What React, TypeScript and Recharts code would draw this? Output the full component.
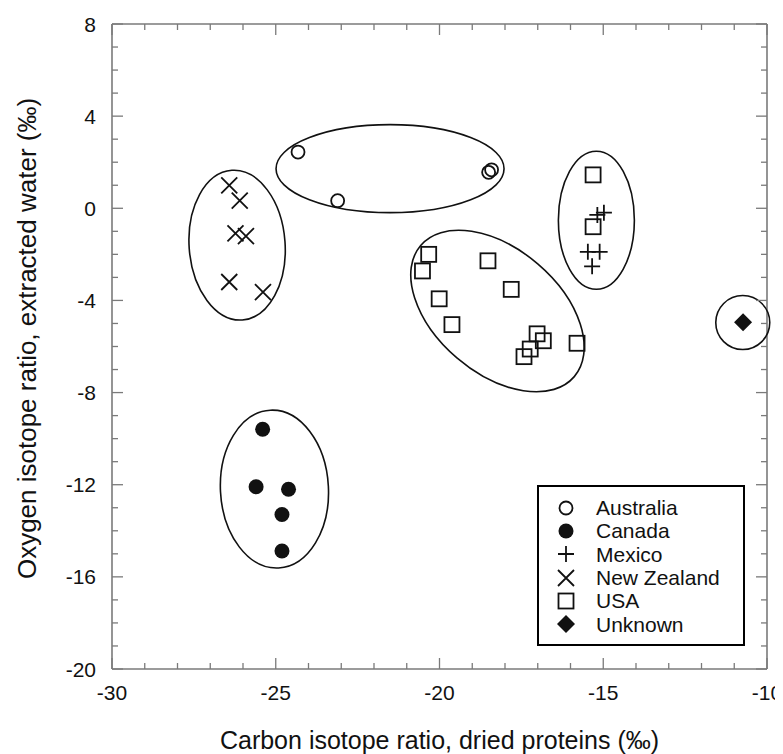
import { ScatterChart, Scatter, XAxis, YAxis, Legend } from 'recharts';

const FONT = '"Liberation Sans", Arial, Helvetica, sans-serif';
const AXIS = '#7a7a7a';
const INK = '#111';

// tick positions (every 1 unit on x, every 1 unit on y)
const X_TICKS = [-30, -29, -28, -27, -26, -25, -24, -23, -22, -21, -20, -19, -18, -17, -16, -15, -14, -13, -12, -11, -10];
const Y_TICKS = [8, 7, 6, 5, 4, 3, 2, 1, 0, -1, -2, -3, -4, -5, -6, -7, -8, -9, -10, -11, -12, -13, -14, -15, -16, -17, -18, -19, -20];
const X_LABELS = [-30, -25, -20, -15, -10];
const Y_LABELS = [8, 4, 0, -4, -8, -12, -16, -20];

// [carbon, oxygen]
const AUSTRALIA = [[-24.32, 2.44], [-23.11, 0.33], [-18.5, 1.56], [-18.41, 1.67]];
const CANADA = [[-25.4, -9.59], [-25.6, -12.09], [-24.61, -12.2], [-24.81, -13.29], [-24.81, -14.88]];
const MEXICO = [[-15.18, -0.29], [-14.98, -0.19], [-15.47, -1.89], [-15.11, -1.89], [-15.34, -2.52]];
const NEW_ZEALAND = [[-26.42, 0.99], [-26.1, 0.33], [-26.23, -1.09], [-25.91, -1.21], [-26.42, -3.2], [-25.39, -3.64]];
const USA = [
  [-15.31, 1.45], [-15.31, -0.8], [-20.33, -2.0], [-20.52, -2.72], [-18.52, -2.28], [-17.81, -3.52],
  [-20.01, -3.93], [-19.62, -5.05], [-17.02, -5.45], [-16.83, -5.75], [-17.23, -6.11], [-17.42, -6.44], [-15.8, -5.86],
];
const UNKNOWN = [[-10.73, -4.95]];

// centres of the group outlines
const RING_CENTERS = [
  { group: 'Australia', x: -21.51, y: 1.72 },
  { group: 'New Zealand', x: -26.18, y: -1.6 },
  { group: 'Mexico', x: -15.21, y: -0.52 },
  { group: 'USA', x: -18.23, y: -4.46 },
  { group: 'Unknown', x: -10.74, y: -4.96 },
  { group: 'Canada', x: -25.04, y: -12.19 },
];

// outline geometry in px
const RING_SIZE: Record<string, { rx: number; ry: number; rot: number }> = {
  Australia: { rx: 114, ry: 44, rot: 0 },
  'New Zealand': { rx: 48, ry: 75, rot: -4 },
  Mexico: { rx: 38, ry: 69, rot: 0 },
  USA: { rx: 101, ry: 62, rot: 40.5 },
  Unknown: { rx: 27, ry: 27, rot: 0 },
  Canada: { rx: 54, ry: 79, rot: -3 },
};

const SERIES = [
  { name: 'Australia', points: AUSTRALIA, marker: 'ring' },
  { name: 'Canada', points: CANADA, marker: 'dot' },
  { name: 'Mexico', points: MEXICO, marker: 'plus' },
  { name: 'New Zealand', points: NEW_ZEALAND, marker: 'cross' },
  { name: 'USA', points: USA, marker: 'square' },
  { name: 'Unknown', points: UNKNOWN, marker: 'diamond' },
];

function Marker({ kind, cx, cy }: { kind: string; cx: number; cy: number }) {
  const sw = 1.8;
  switch (kind) {
    case 'ring':
      return <circle cx={cx} cy={cy} r={6.5} fill="none" stroke={INK} strokeWidth={sw} />;
    case 'dot':
      return <circle cx={cx} cy={cy} r={7.5} fill={INK} />;
    case 'plus':
      return <path d={`M${cx - 8},${cy}H${cx + 8}M${cx},${cy - 8}V${cy + 8}`} stroke={INK} strokeWidth={sw} fill="none" />;
    case 'cross':
      return (
        <path
          d={`M${cx - 8},${cy - 8}L${cx + 8},${cy + 8}M${cx + 8},${cy - 8}L${cx - 8},${cy + 8}`}
          stroke={INK}
          strokeWidth={sw}
          fill="none"
        />
      );
    case 'square':
      return <rect x={cx - 7.5} y={cy - 7.5} width={15} height={15} fill="none" stroke={INK} strokeWidth={sw} />;
    case 'diamond':
      return <path d={`M${cx},${cy - 9}L${cx + 9},${cy}L${cx},${cy + 9}L${cx - 9},${cy}Z`} fill={INK} />;
    default:
      return null;
  }
}

function xTick(side: 'bottom' | 'top') {
  return (props: any) => {
    const { x, y, payload } = props;
    const v = payload.value;
    const major = X_LABELS.includes(v);
    const len = major ? 11 : 6;
    const dir = side === 'bottom' ? -1 : 1;
    return (
      <g>
        <line x1={x} y1={y} x2={x} y2={y + dir * len} stroke={AXIS} strokeWidth={1.3} />
        {side === 'bottom' && major && (
          <text x={x} y={y + 31} textAnchor="middle" fontSize={21} fontFamily={FONT} fill={INK}>
            {v}
          </text>
        )}
      </g>
    );
  };
}

function yTick(side: 'left' | 'right') {
  return (props: any) => {
    const { x, y, payload } = props;
    const v = payload.value;
    const major = Y_LABELS.includes(v);
    const len = major ? 11 : 6;
    const dir = side === 'left' ? 1 : -1;
    return (
      <g>
        <line x1={x} y1={y} x2={x + dir * len} y2={y} stroke={AXIS} strokeWidth={1.3} />
        {side === 'left' && major && (
          <text x={x - 16} y={y + 7.5} textAnchor="end" fontSize={21} fontFamily={FONT} fill={INK}>
            {v}
          </text>
        )}
      </g>
    );
  };
}

function LegendBox() {
  return (
    <div
      style={{
        boxSizing: 'border-box',
        width: 208,
        height: 161,
        border: '2px solid #000',
        background: '#fff',
        padding: '9px 0 0 17px',
        fontFamily: FONT,
        fontSize: 21,
        color: INK,
      }}
    >
      {SERIES.map((s) => (
        <div key={s.name} style={{ display: 'flex', alignItems: 'center', height: 23.3 }}>
          <svg width={20} height={20} style={{ flex: 'none' }}>
            <Marker kind={s.marker} cx={10} cy={10} />
          </svg>
          <span style={{ marginLeft: 20, lineHeight: '23px', whiteSpace: 'nowrap' }}>{s.name}</span>
        </div>
      ))}
    </div>
  );
}

export default function App() {
  return (
    <div style={{ background: '#fff' }}>
      <ScatterChart width={775} height={746} margin={{ top: 15, right: 15, bottom: 55, left: 44 }}>
        <XAxis
          xAxisId="b"
          type="number"
          dataKey="x"
          domain={[-30, -10]}
          ticks={X_TICKS}
          interval={0}
          height={30}
          tickSize={0}
          tickMargin={0}
          tickLine={false}
          axisLine={{ stroke: AXIS, strokeWidth: 1.6 }}
          tick={xTick('bottom')}
          label={(p: any) => {
            const vb = p.viewBox || { x: 104, y: 661, width: 655, height: 30 };
            return (
              <text
                x={vb.x + vb.width / 2}
                y={vb.y + vb.height + 50}
                textAnchor="middle"
                fontSize={25}
                fontFamily={FONT}
                fill={INK}
              >
                Carbon isotope ratio, dried proteins (‰)
              </text>
            );
          }}
        />
        <XAxis
          xAxisId="t"
          orientation="top"
          type="number"
          dataKey="x"
          domain={[-30, -10]}
          ticks={X_TICKS}
          interval={0}
          height={1}
          tickSize={0}
          tickMargin={0}
          tickLine={false}
          axisLine={{ stroke: AXIS, strokeWidth: 1.6 }}
          tick={xTick('top')}
        />
        <YAxis
          yAxisId="l"
          type="number"
          dataKey="y"
          domain={[-20, 8]}
          ticks={Y_TICKS}
          interval={0}
          width={60}
          tickSize={0}
          tickMargin={0}
          tickLine={false}
          axisLine={{ stroke: AXIS, strokeWidth: 1.6 }}
          tick={yTick('left')}
          label={(p: any) => {
            const vb = p.viewBox || { x: 44, y: 16, width: 60, height: 645 };
            const tx = vb.x - 16;
            const ty = vb.y + vb.height / 2 - 8;
            return (
              <text
                x={tx}
                y={ty}
                transform={`rotate(-90 ${tx} ${ty})`}
                textAnchor="middle"
                fontSize={26}
                fontFamily={FONT}
                fill={INK}
              >
                Oxygen isotope ratio, extracted water (‰)
              </text>
            );
          }}
        />
        <YAxis
          yAxisId="r"
          orientation="right"
          type="number"
          dataKey="y"
          domain={[-20, 8]}
          ticks={Y_TICKS}
          interval={0}
          width={1}
          tickSize={0}
          tickMargin={0}
          tickLine={false}
          axisLine={{ stroke: AXIS, strokeWidth: 1.6 }}
          tick={yTick('right')}
        />
        <Scatter
          xAxisId="b"
          yAxisId="l"
          name="groups"
          data={RING_CENTERS}
          legendType="none"
          isAnimationActive={false}
          shape={(p: any) => {
            const r = RING_SIZE[p.payload.group];
            return (
              <ellipse
                cx={p.cx}
                cy={p.cy}
                rx={r.rx}
                ry={r.ry}
                transform={`rotate(${r.rot} ${p.cx} ${p.cy})`}
                fill="none"
                stroke={INK}
                strokeWidth={1.6}
              />
            );
          }}
        />
        {/* frame partner: ties the top and right axes to data so they render */}
        <Scatter
          xAxisId="t"
          yAxisId="r"
          name="frame"
          data={RING_CENTERS}
          legendType="none"
          isAnimationActive={false}
          shape={() => <g />}
        />
        {SERIES.map((s) => (
          <Scatter
            key={s.name}
            xAxisId="b"
            yAxisId="l"
            name={s.name}
            data={s.points.map(([x, y]) => ({ x, y }))}
            isAnimationActive={false}
            shape={(p: any) => <Marker kind={s.marker} cx={p.cx} cy={p.cy} />}
          />
        ))}
        <Legend
          layout="vertical"
          verticalAlign="middle"
          align="center"
          wrapperStyle={{ left: 529, top: 477, width: 208, height: 161, margin: 0 }}
          content={() => <LegendBox />}
        />
      </ScatterChart>
    </div>
  );
}
